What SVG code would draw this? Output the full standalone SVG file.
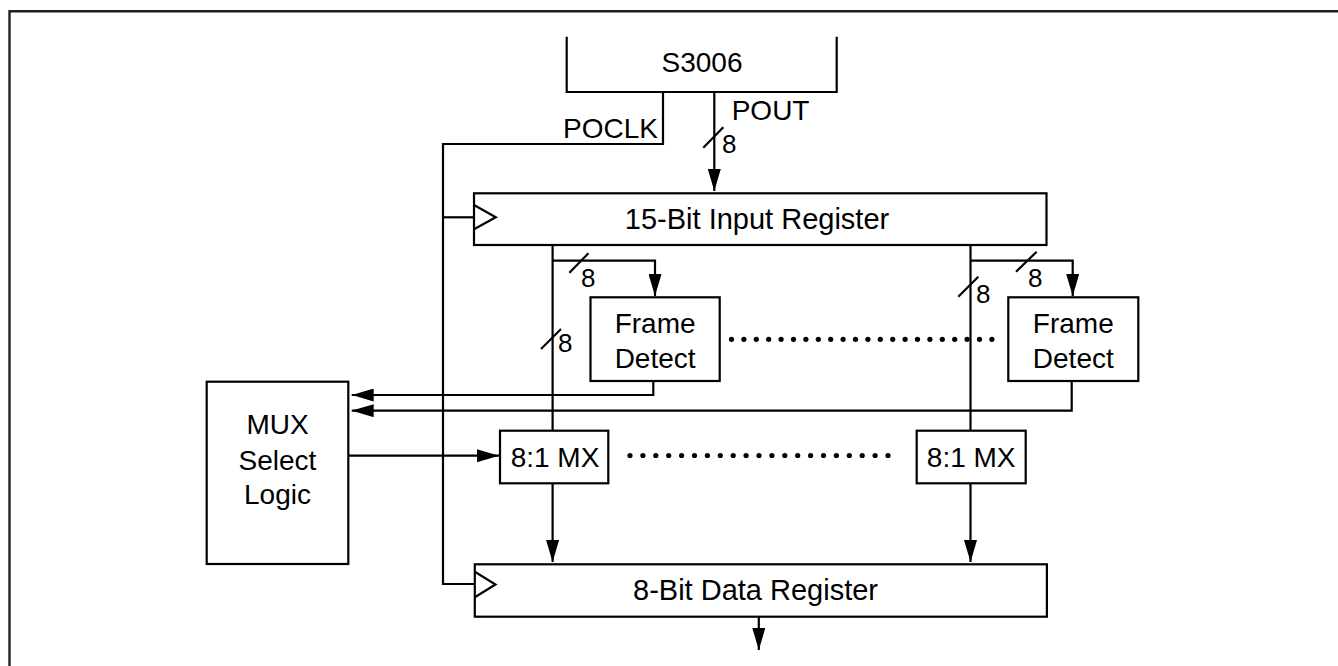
<svg xmlns="http://www.w3.org/2000/svg" width="1338" height="666" viewBox="0 0 1338 666">
<style>
.ln{fill:none;stroke:#000;stroke-width:2.2}
.bx{fill:#fff;stroke:#000;stroke-width:2.2}
.t{font-family:"Liberation Sans",Arial,sans-serif;font-size:28px;fill:#000}
.m{text-anchor:middle}
.n{font-family:"Liberation Sans",Arial,sans-serif;font-size:26px;fill:#000}
.dot{fill:#000}
</style>
<defs>
<marker id="ah" markerWidth="22" markerHeight="13" refX="22" refY="6.5" orient="auto" markerUnits="userSpaceOnUse">
<path d="M0,0 L22,6.5 L0,13 Z" fill="#000"/>
</marker>
</defs>
<rect width="1338" height="666" fill="#fff"/>
<path d="M9.5,666 V11.2 H1338" fill="none" stroke="#231f20" stroke-width="2.4"/>

<g id="connectors">
<path class="ln" d="M663,92 V144 H443 V584 H474.8"/>
<path class="ln" d="M443,217.3 H474"/>
<path class="ln" d="M714.3,92 V191" marker-end="url(#ah)"/>
<path class="ln" d="M703.3,147.7 L723.3,127.3"/>
<path class="ln" d="M552.6,245 V430.7"/>
<path class="ln" d="M970.5,245 V430.7"/>
<path class="ln" d="M552.6,260.7 H655 V296" marker-end="url(#ah)"/>
<path class="ln" d="M970.5,260.7 H1072.7 V296" marker-end="url(#ah)"/>
<path class="ln" d="M569.4,272.7 L588.4,253.3"/>
<path class="ln" d="M1016,271.7 L1036.7,251.7"/>
<path class="ln" d="M958.3,296.7 L978.3,276.7"/>
<path class="ln" d="M541,349 L561,329"/>
<path class="ln" d="M653.3,381 V395 H351.7" marker-end="url(#ah)"/>
<path class="ln" d="M1071.7,381 V410.7 H351.7" marker-end="url(#ah)"/>
<path class="ln" d="M348.3,455.7 H499" marker-end="url(#ah)"/>
<path class="ln" d="M552.6,483.3 V562" marker-end="url(#ah)"/>
<path class="ln" d="M970.5,483.3 V562" marker-end="url(#ah)"/>
<path class="ln" d="M758.8,616.7 V650" marker-end="url(#ah)"/>
</g>

<g id="s3006">
<path class="ln" d="M566.7,36.7 V92 H836.7 V36.7"/>
<text class="t m" x="702" y="71.7">S3006</text>
</g>
<g id="labels">
<text class="t" x="658" y="138" text-anchor="end">POCLK</text>
<text class="t" x="731.7" y="120">POUT</text>
<text class="n" x="722" y="153">8</text>
<text class="n" x="581" y="287.3">8</text>
<text class="n" x="1028" y="286.7">8</text>
<text class="n" x="976" y="303.3">8</text>
<text class="n" x="558" y="352">8</text>
</g>

<g id="input-register">
<rect class="bx" x="474" y="193.3" width="572.5" height="51.7"/>
<path class="ln" d="M474,205 L495.8,217.3 L474,229.3"/>
<text class="t m" x="757" y="229.3" style="font-size:29px">15-Bit Input Register</text>
</g>

<g id="frame-detect-1">
<rect class="bx" x="590.5" y="297.3" width="129.2" height="83.7"/>
<text class="t m" x="655.1" y="333">Frame</text>
<text class="t m" x="655.1" y="368.3">Detect</text>
</g>
<g id="frame-detect-2">
<rect class="bx" x="1008.3" y="297.3" width="130" height="83.7"/>
<text class="t m" x="1073.3" y="333">Frame</text>
<text class="t m" x="1073.3" y="368.3">Detect</text>
</g>

<g id="dots-fd">
<circle class="dot" cx="731.5" cy="339.3" r="2.6"/><circle class="dot" cx="743.9" cy="339.3" r="2.6"/><circle class="dot" cx="756.3" cy="339.3" r="2.6"/><circle class="dot" cx="768.7" cy="339.3" r="2.6"/><circle class="dot" cx="781.1" cy="339.3" r="2.6"/><circle class="dot" cx="793.5" cy="339.3" r="2.6"/><circle class="dot" cx="805.9" cy="339.3" r="2.6"/><circle class="dot" cx="818.3" cy="339.3" r="2.6"/><circle class="dot" cx="830.7" cy="339.3" r="2.6"/><circle class="dot" cx="843.1" cy="339.3" r="2.6"/><circle class="dot" cx="855.5" cy="339.3" r="2.6"/><circle class="dot" cx="867.9" cy="339.3" r="2.6"/><circle class="dot" cx="880.3" cy="339.3" r="2.6"/><circle class="dot" cx="892.7" cy="339.3" r="2.6"/><circle class="dot" cx="905.1" cy="339.3" r="2.6"/><circle class="dot" cx="917.5" cy="339.3" r="2.6"/><circle class="dot" cx="929.9" cy="339.3" r="2.6"/><circle class="dot" cx="942.3" cy="339.3" r="2.6"/><circle class="dot" cx="954.7" cy="339.3" r="2.6"/><circle class="dot" cx="967.1" cy="339.3" r="2.6"/><circle class="dot" cx="979.5" cy="339.3" r="2.6"/><circle class="dot" cx="991.9" cy="339.3" r="2.6"/>
</g>

<g id="mux-select">
<rect class="bx" x="206.7" y="381.7" width="141.6" height="182.3"/>
<text class="t m" x="277.5" y="434">MUX</text>
<text class="t m" x="277.5" y="469.5">Select</text>
<text class="t m" x="277.5" y="504">Logic</text>
</g>

<g id="mx-1">
<rect class="bx" x="500" y="430.7" width="108.3" height="52.6"/>
<text class="t m" x="555" y="467.3">8:1 MX</text>
</g>
<g id="mx-2">
<rect class="bx" x="916.7" y="430.7" width="109" height="52.6"/>
<text class="t m" x="971.2" y="467.3">8:1 MX</text>
</g>

<g id="dots-mx">
<circle class="dot" cx="630" cy="455.5" r="2.6"/><circle class="dot" cx="642.9" cy="455.5" r="2.6"/><circle class="dot" cx="655.8" cy="455.5" r="2.6"/><circle class="dot" cx="668.7" cy="455.5" r="2.6"/><circle class="dot" cx="681.6" cy="455.5" r="2.6"/><circle class="dot" cx="694.5" cy="455.5" r="2.6"/><circle class="dot" cx="707.4" cy="455.5" r="2.6"/><circle class="dot" cx="720.3" cy="455.5" r="2.6"/><circle class="dot" cx="733.2" cy="455.5" r="2.6"/><circle class="dot" cx="746.1" cy="455.5" r="2.6"/><circle class="dot" cx="759" cy="455.5" r="2.6"/><circle class="dot" cx="771.9" cy="455.5" r="2.6"/><circle class="dot" cx="784.8" cy="455.5" r="2.6"/><circle class="dot" cx="797.7" cy="455.5" r="2.6"/><circle class="dot" cx="810.6" cy="455.5" r="2.6"/><circle class="dot" cx="823.5" cy="455.5" r="2.6"/><circle class="dot" cx="836.4" cy="455.5" r="2.6"/><circle class="dot" cx="849.3" cy="455.5" r="2.6"/><circle class="dot" cx="862.2" cy="455.5" r="2.6"/><circle class="dot" cx="875.1" cy="455.5" r="2.6"/><circle class="dot" cx="888" cy="455.5" r="2.6"/>
</g>

<g id="data-register">
<rect class="bx" x="474.8" y="564.3" width="572.1" height="52.4"/>
<path class="ln" d="M474.8,571.7 L495.5,584.5 L474.8,597.3"/>
<text class="t m" x="755.5" y="600" style="font-size:29px">8-Bit Data Register</text>
</g>
</svg>
